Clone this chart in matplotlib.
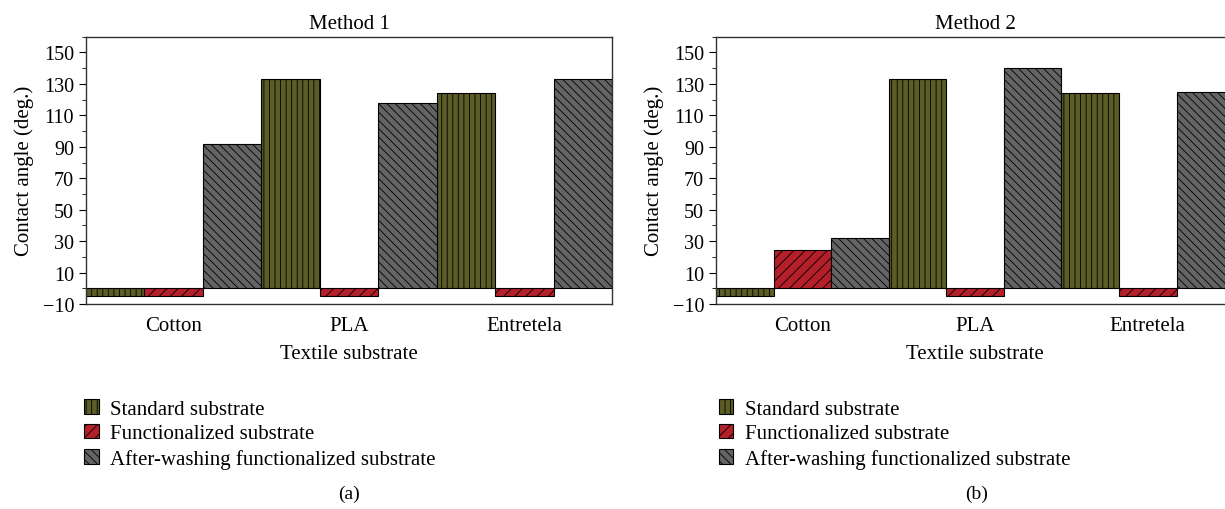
import matplotlib

matplotlib.use("Agg")
import matplotlib.pyplot as plt
import numpy as np
from matplotlib.ticker import MultipleLocator

plt.rcParams["font.family"] = ["Liberation Serif", "DejaVu Serif"]
plt.rcParams["hatch.linewidth"] = 0.6

substrates = ["Cotton", "PLA", "Entretela"]
series = ["Standard substrate", "Functionalized substrate",
          "After-washing functionalized substrate"]

# contact angle (deg.) per substrate; -5 marks a fully absorbed drop
method1_standard = [-5, 133, 124]
method1_functional = [-5, -5, -5]
method1_washed = [92, 118, 133]

method2_standard = [-5, 133, 124]
method2_functional = [24.5, -5, -5]
method2_washed = [32, 140, 125]

colors = ["#5c5c27", "#b3202a", "#646464"]
hatches = ["|||", "///", "\\\\\\\\"]


def draw_panel(ax, values, title):
    x = np.arange(len(substrates))
    w = 1 / 3
    bars = []
    for j, vals in enumerate(values):
        b = ax.bar(x + (j - 1) * w, vals, width=w, color=colors[j],
                   hatch=hatches[j], edgecolor="black", linewidth=0.8,
                   label=series[j])
        bars.append(b)
    ax.set_xlim(-0.5, 2.5)
    ax.set_ylim(-10, 160)
    ax.set_yticks(np.arange(-10, 151, 20))
    ax.yaxis.set_minor_locator(MultipleLocator(10))
    ax.set_xticks(x)
    ax.set_xticklabels(substrates)
    ax.tick_params(axis="x", length=0, pad=9, labelsize=15)
    ax.tick_params(axis="y", which="major", length=5, labelsize=14.5)
    ax.tick_params(axis="y", which="minor", length=3)
    ax.set_xlabel("Textile substrate", fontsize=15, labelpad=6)
    ax.set_ylabel("Contact angle (deg.)", fontsize=15, labelpad=6)
    ax.set_title(title, fontsize=15, pad=6)
    for s in ax.spines.values():
        s.set_color("#333333")
        s.set_linewidth(1.0)
    return bars


fig = plt.figure(figsize=(12.25, 5.1), dpi=100)
ax1 = fig.add_axes([0.0702, 0.402, 0.4294, 0.524])
ax2 = fig.add_axes([0.5845, 0.402, 0.4229, 0.524])

bars1 = draw_panel(ax1, [method1_standard, method1_functional, method1_washed],
                   "Method 1")
bars2 = draw_panel(ax2, [method2_standard, method2_functional, method2_washed],
                   "Method 2")

for bars, x0, tag, xc in [(bars1, 0.062, "(a)", 0.285), (bars2, 0.580, "(b)", 0.797)]:
    fig.legend(bars, series, loc="upper left", bbox_to_anchor=(x0, 0.232),
               frameon=False, fontsize=15, handlelength=0.7, handleheight=0.7,
               handletextpad=0.55, labelspacing=0.25, borderaxespad=0)
    fig.text(xc, 0.022, tag, ha="center", fontsize=14)

fig.savefig("out.png", dpi=100)
